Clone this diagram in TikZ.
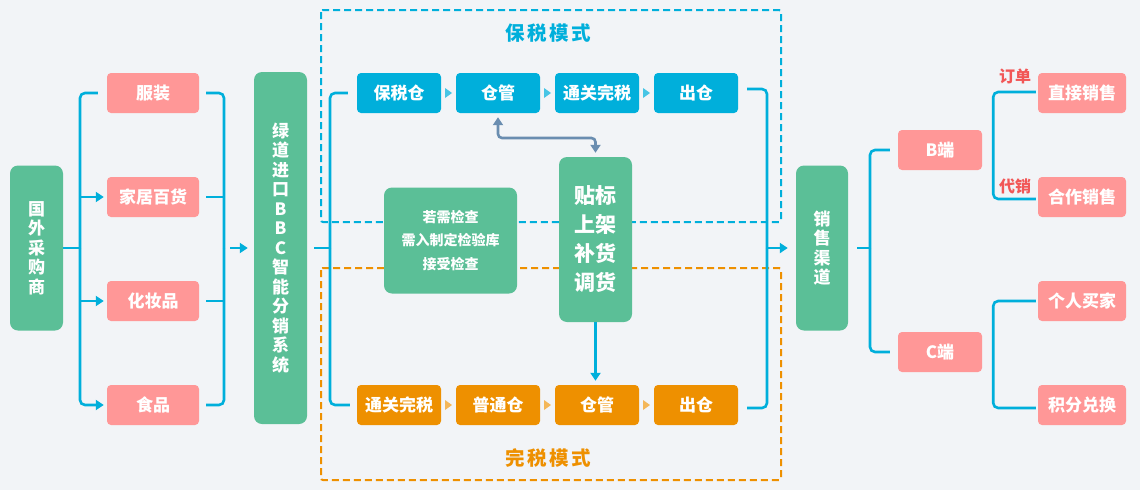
\documentclass[tikz,border=0pt]{standalone}
\usepackage{fontspec}
\setmainfont{Noto Sans CJK SC}
\usetikzlibrary{arrows.meta,calc}
\definecolor{bg}{HTML}{F2F4F7}
\definecolor{gr}{HTML}{5BBF97}
\definecolor{pk}{HTML}{FF9797}
\definecolor{bl}{HTML}{00AFDB}
\definecolor{og}{HTML}{EE9000}
\definecolor{sl}{HTML}{6A8DB0}
\definecolor{rd}{HTML}{F25757}
\newcommand\myfs[2]{\fontsize{#1}{#2}\selectfont}
\tikzset{
  box/.style={rounded corners=4pt, text=white, font=\bfseries\myfs{17}{20}, inner sep=0pt, minimum height=40pt, align=center},
  pinkbox/.style={box, fill=pk, minimum width=92pt},
  pinkbox2/.style={box, fill=pk, minimum width=88pt},
  pinkbox3/.style={box, fill=pk, minimum width=84pt},
  bluebox/.style={box, fill=bl, minimum width=84pt},
  orangebox/.style={box, fill=og, minimum width=84pt},
  tall/.style={rounded corners=8pt, fill=gr, text=white, inner sep=0pt, align=center, font=\bfseries\myfs{17}{19.5}},
  link/.style={draw=bl, line width=2.6pt, rounded corners=5pt},
  tip/.style={-{Triangle[length=8pt,width=10pt]}},
  dashbox/.style={line width=2pt, dash pattern=on 7pt off 4pt, rounded corners=2pt},
  title/.style={font=\bfseries\myfs{19.5}{19.5}},
  lbl/.style={text=rd, font=\bfseries\myfs{16}{16}, inner sep=0pt}
}
\newcommand\tsp{\hspace{2.5pt}}
\begin{document}
\begin{tikzpicture}[x=1pt,y=-1pt]
\useasboundingbox (0,0) rectangle (1140,490);
\fill[bg] (0,0) rectangle (1140,490);

% dashed mode frames
\draw[dashbox, bl] (321,10) rectangle (781,222);
\draw[dashbox, og] (321,268) rectangle (781,480);
\node[title, text=bl] (t1) at (548,33) {保\tsp 税\tsp 模\tsp 式};
\node[title, text=og] (t2) at (548,458) {完\tsp 税\tsp 模\tsp 式};

% left part
\node[tall, minimum width=53pt, minimum height=165pt] (gw) at (36.5,248) {国\\外\\采\\购\\商};
\node[pinkbox] (fz) at (153,93) {服装};
\node[pinkbox] (jj) at (153,197) {家居百货};
\node[pinkbox] (hz) at (153,301) {化妆品};
\node[pinkbox] (sp) at (153,405) {食品};
\node[tall, minimum width=53pt, minimum height=352pt] (bbc) at (280.5,248) {绿\\道\\进\\口\\B\\B\\C\\智\\能\\分\\销\\系\\统};

% bonded row
\node[bluebox] (bsc) at (399,93) {保税仓};
\node[bluebox] (cg1) at (498,93) {仓管};
\node[bluebox] (tg1) at (597,93) {通关完税};
\node[bluebox] (cc1) at (696,93) {出仓};
% duty-paid row
\node[orangebox] (tg2) at (399,405) {通关完税};
\node[orangebox] (pt) at (498,405) {普通仓};
\node[orangebox] (cg2) at (597,405) {仓管};
\node[orangebox] (cc2) at (696,405) {出仓};

% middle green boxes
\node[tall, minimum width=133pt, minimum height=106pt, font=\bfseries\myfs{14}{23.5}] (jc) at (450.5,240.5) {若需检查\\需入制定检验库\\接受检查};
\node[tall, minimum width=73pt, minimum height=165pt, font=\bfseries\myfs{21}{29}] (tb) at (595.5,239.5) {贴标\\上架\\补货\\调货};

% right part
\node[tall, minimum width=52pt, minimum height=165pt] (xs) at (822,248) {销\\售\\渠\\道};
\node[pinkbox3] (bd) at (940,150) {B端};
\node[pinkbox3] (cd) at (940,352) {C端};
\node[pinkbox2] (zj) at (1082,93) {直接销售};
\node[pinkbox2] (hz2) at (1082,197) {合作销售};
\node[pinkbox2] (gr) at (1082,301) {个人买家};
\node[pinkbox2] (jf) at (1082,405) {积分兑换};
\node[lbl] (dd) at (1015,76) {订单};
\node[lbl] (dx) at (1015,186) {代销};

% row triangles
\foreach \a/\b in {bsc/cg1, cg1/tg1, tg1/cc1}
  \fill[bl!72] ($(\a.east)!0.5!(\b.west)$) ++(-3.5pt,5pt) -- ++(7pt,-5pt) -- ++(-7pt,-5pt) -- cycle;
\foreach \a/\b in {tg2/pt, pt/cg2, cg2/cc2}
  \fill[og!65] ($(\a.east)!0.5!(\b.west)$) ++(-3.5pt,5pt) -- ++(7pt,-5pt) -- ++(-7pt,-5pt) -- cycle;

% connectors left
\coordinate (L) at (80,248);
\draw[link] (gw.east) -- (L);
\draw[link] ($(fz.west)+(-9pt,0pt)$) -| (L);
\draw[link,tip,shorten >=3pt] (L) |- (sp.west);
\draw[link,tip,shorten >=3pt] (L |- jj.west) -- (jj.west);
\draw[link,tip,shorten >=3pt] (L |- hz.west) -- (hz.west);

\coordinate (R) at (224,248);
\draw[link] ($(fz.east)+(7pt,0pt)$) -| (R);
\draw[link] ($(sp.east)+(7pt,0pt)$) -| (R);
\draw[link] ($(jj.east)+(7pt,0pt)$) -- (jj.east -| R);
\draw[link] ($(hz.east)+(7pt,0pt)$) -- (hz.east -| R);
\draw[link,tip,shorten >=6pt] ($(R)+(6pt,0pt)$) -- (bbc.west |- R);

\coordinate (M) at (330,248);
\draw[link] ($(bbc.east)+(7pt,0pt)$) -- (M);
\draw[link] ($(bsc.west)+(-9pt,0pt)$) -| (M);
\draw[link] ($(tg2.west)+(-7pt,0pt)$) -| (M);

\coordinate (N) at (767,248);
\draw[link] ($(cc1.east)+(9pt,4pt)$) -| (N);
\draw[link] ($(cc2.east)+(9pt,-3pt)$) -| (N);
\draw[link,tip,shorten >=8pt] (N) -- (xs.west);

\coordinate (S) at (870,248);
\draw[link] ($(xs.east)+(9pt,0pt)$) -- (S);
\draw[link] ($(bd.west)+(-8pt,0pt)$) -| (S);
\draw[link] ($(cd.west)+(-8pt,0pt)$) -| (S);

\draw[link] ($(zj.west)+(-2pt,1pt)$) -| ($(bd.east)+(11pt,0pt)$) |- ($(hz2.west)+(-2pt,-2pt)$);
\draw[link] ($(gr.west)+(-2pt,0pt)$) -| ($(cd.east)+(11pt,0pt)$) |- ($(jf.west)+(-2pt,-3pt)$);

% inner arrows
\coordinate (G) at (548,138);
\draw[draw=sl, line width=2.6pt, rounded corners=4pt, {Triangle[length=8pt,width=10pt]}-{Triangle[length=8pt,width=10pt]}, shorten <=4pt, shorten >=4pt] (cg1.south) |- (G) -| (tb.north);
\draw[link,tip,shorten >=4pt] (tb.south) -- (tb.south |- cg2.north);
\end{tikzpicture}
\end{document}
